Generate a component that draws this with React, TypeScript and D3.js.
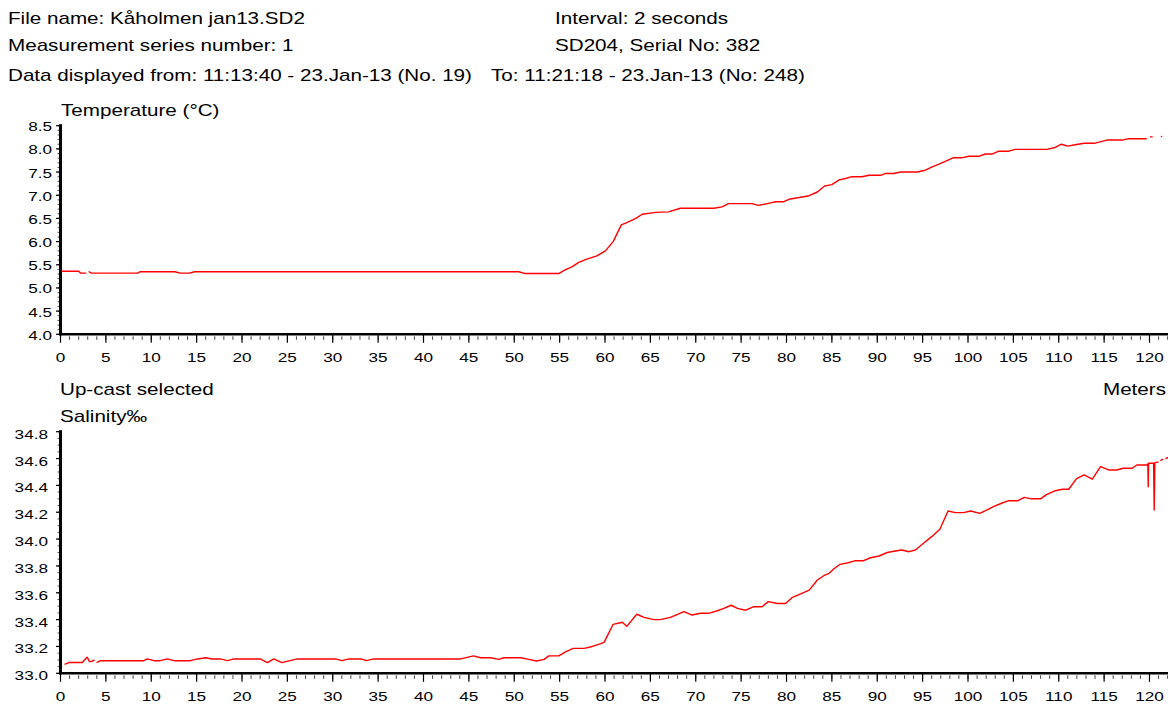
import React from "react";
import * as d3 from "d3";

// ---------- header texts ----------
const headerLeft = [
  "File name: Kåholmen jan13.SD2",
  "Measurement series number: 1",
  "Data displayed from: 11:13:40 - 23.Jan-13 (No. 19)",
];
const headerRight = [
  "Interval: 2 seconds",
  "SD204, Serial No: 382",
  "To: 11:21:18 - 23.Jan-13 (No: 248)",
];

// ---------- axis tick labels ----------
const depthTicks = [0, 5, 10, 15, 20, 25, 30, 35, 40, 45, 50, 55, 60, 65, 70, 75, 80, 85, 90, 95, 100, 105, 110, 115, 120];
const tempTicks = [4.0, 4.5, 5.0, 5.5, 6.0, 6.5, 7.0, 7.5, 8.0, 8.5];
const salTicks = [33.0, 33.2, 33.4, 33.6, 33.8, 34.0, 34.2, 34.4, 34.6, 34.8];

// ---------- temperature series (null = gap in record) ----------
const tempDepth = [
  0.1, 2.0, 2.2, 2.85, 2.95, 3.1, 3.4, 8.5, 8.8, 12.6, 13.2, 14.2, 14.8, 50.5, 51.2, 54.9, 55.5, 56.4, 57.1, 58.0,
  59.1, 60.05, 60.9, 61.8, 62.4, 63.4, 64.1, 65.6, 67.0, 68.3, 72.0, 72.9, 73.6, 76.2, 76.9, 77.9, 78.8, 79.7, 80.4, 81.4,
  82.5, 83.4, 84.2, 85.0, 85.8, 86.5, 87.2, 88.3, 89.1, 90.4, 90.9, 91.8, 92.6, 94.4, 95.3, 96.05, 96.8, 97.5, 98.4, 99.4,
  100.1, 101.2, 101.9, 102.7, 103.4, 104.5, 105.2, 108.7, 109.6, 110.3, 111.0, 111.8, 112.8, 113.9, 115.3, 117.0, 117.7, 119.7,
  119.85, 120.05, 120.35, 120.5, 120.8, 120.95, 121.25, 121.4, 121.6, 122.0,
];
const tempValue = [
  5.36, 5.36, 5.32, 5.32, null, 5.355, 5.32, 5.32, 5.35, 5.35, 5.32, 5.32, 5.35, 5.35, 5.31, 5.31, 5.38, 5.46, 5.55, 5.62,
  5.69, 5.80, 6.0, 6.36, 6.41, 6.50, 6.59, 6.63, 6.64, 6.72, 6.72, 6.75, 6.82, 6.82, 6.78, 6.82, 6.86, 6.86, 6.92, 6.95,
  6.99, 7.07, 7.20, 7.23, 7.33, 7.36, 7.40, 7.40, 7.43, 7.43, 7.47, 7.47, 7.50, 7.50, 7.54, 7.61, 7.67, 7.73, 7.81, 7.81,
  7.84, 7.84, 7.89, 7.89, 7.95, 7.95, 7.99, 7.99, 8.03, 8.10, 8.06, 8.09, 8.12, 8.12, 8.19, 8.19, 8.22, 8.22,
  null, 8.26, 8.26, null, 8.26, null, 8.265, 8.27, null, 8.31,
];

// ---------- salinity series ----------
const salDepth = [
  0.44, 0.92, 2.4, 2.75, 2.93, 3.2, 3.5, 3.75, 3.85, 3.97, 4.4, 9.2, 9.55, 10.3, 11.0, 11.75, 12.5, 14.3, 15.1, 16.0,
  16.7, 17.6, 18.4, 19.1, 22.0, 22.8, 23.5, 24.4, 25.3, 26.1, 30.3, 31.0, 31.8, 33.1, 33.7, 34.5, 44.1, 45.5, 46.3, 47.4,
  48.3, 48.85, 50.7, 51.6, 52.45, 53.3, 53.8, 54.9, 55.65, 56.5, 57.7, 58.6, 59.3, 59.9, 60.9, 61.9, 62.4, 63.5, 64.3, 65.4,
  66.1, 67.2, 67.8, 68.7, 69.6, 70.5, 71.4, 72.3, 73.1, 73.9, 74.6, 75.5, 76.4, 77.3, 78.0, 79.0, 79.9, 80.6, 81.5, 82.5,
  83.4, 84.1, 84.7, 85.2, 85.9, 86.8, 87.6, 88.5, 89.25, 90.2, 91.1, 92.0, 92.7, 93.5, 94.2, 95.1, 96.0, 96.9, 97.8, 98.6,
  99.5, 100.3, 101.3, 102.1, 102.8, 103.7, 104.5, 105.5, 106.2, 107.0, 108.0, 108.6, 109.5, 110.4, 111.1, 111.96, 112.8, 113.7, 114.6, 115.5,
  116.4, 117.1, 118.1, 118.6, 119.7, 119.82, 119.86, 119.9, 120.3, 120.45, 120.52, 120.59, 121.0, 121.1, 121.2, 121.5, 121.6, 121.75, 122.1,
];
const salValue = [
  33.067, 33.08, 33.08, 33.107, 33.12, 33.087, 33.09, 33.10, null, 33.08, 33.094, 33.094, 33.107, 33.094, 33.094, 33.107, 33.094, 33.094, 33.107, 33.116,
  33.107, 33.107, 33.094, 33.107, 33.107, 33.08, 33.107, 33.08, 33.094, 33.107, 33.107, 33.094, 33.107, 33.107, 33.094, 33.107, 33.107, 33.13, 33.116, 33.116,
  33.104, 33.116, 33.116, 33.104, 33.092, 33.104, 33.13, 33.13, 33.16, 33.186, 33.186, 33.20, 33.216, 33.23, 33.365, 33.38, 33.35, 33.44, 33.417, 33.40,
  33.40, 33.417, 33.434, 33.46, 33.434, 33.447, 33.447, 33.464, 33.484, 33.507, 33.484, 33.47, 33.496, 33.496, 33.534, 33.52, 33.52, 33.563, 33.59, 33.62,
  33.695, 33.727, 33.745, 33.777, 33.812, 33.824, 33.839, 33.839, 33.861, 33.874, 33.90, 33.911, 33.919, 33.906, 33.919, 33.969, 34.018, 34.073, 34.209, 34.197,
  34.197, 34.209, 34.192, 34.217, 34.241, 34.267, 34.286, 34.286, 34.311, 34.30, 34.30, 34.329, 34.358, 34.371, 34.371, 34.45, 34.478, 34.446, 34.54, 34.515,
  34.515, 34.528, 34.528, 34.552, 34.552, 34.56, 34.39, 34.565, 34.565, 34.565, 34.217, 34.57, 34.575, null, 34.585, 34.595, null, 34.60, 34.61,
];

// ---------- layout ----------
const W = 1168;
const H = 705;
const SX = 1.29;
const SX_AXIS = 1.32;
const FONT = "'Liberation Sans', Arial, Helvetica, sans-serif";
const RED = "#ff0000";

const x = d3.scaleLinear().domain([0, 120]).range([60.5, 1149.5]);
const xMax = x.invert(W);

function T({ x: tx, y: ty, anchor = "start", size = 16, sx = SX, children }: any) {
  return (
    <text
      transform={`translate(${tx},${ty}) scale(${sx},1)`}
      textAnchor={anchor}
      fontSize={size}
      fontFamily={FONT}
      fill="#000"
    >
      {children}
    </text>
  );
}

type PanelProps = {
  yScale: d3.ScaleLinear<number, number>;
  ticks: number[];
  minorStep: number;
  fmt: (v: number) => string;
  depth: number[];
  values: (number | null)[];
  labelRight: number;
  labelDy: number;
};

function Panel({ yScale, ticks, minorStep, fmt, depth, values, labelRight, labelDy }: PanelProps) {
  const [d0, d1] = yScale.domain();
  const yBottom = yScale(d0);
  const yTop = yScale(d1);
  const axisX = x(0);
  const minorY = d3.range(Math.round((d1 - d0) / minorStep) + 1).map((i) => d0 + i * minorStep);
  const minorX = d3.range(0, Math.floor(xMax) + 1);
  const pts = depth.map((d, i) => [d, values[i]] as [number, number | null]);
  const line = d3
    .line<[number, number | null]>()
    .defined((p) => p[1] !== null)
    .x((p) => x(p[0]))
    .y((p) => yScale(p[1] as number));
  return (
    <g>
      {minorY.map((v, i) => (
        <line key={"my" + i} x1={axisX - 3} x2={axisX} y1={yScale(v)} y2={yScale(v)} stroke="#555" strokeWidth={1} />
      ))}
      {ticks.map((v, i) => (
        <line key={"Y" + i} x1={axisX - 4.5} x2={axisX} y1={yScale(v)} y2={yScale(v)} stroke="#000" strokeWidth={1.2} />
      ))}
      {ticks.map((v, i) => (
        <T key={"yl" + i} x={labelRight} y={yScale(v) + labelDy} anchor="end" size={13} sx={SX_AXIS}>
          {fmt(v)}
        </T>
      ))}
      {minorX.map((v) => (
        <line key={"mx" + v} x1={x(v)} x2={x(v)} y1={yBottom + 2} y2={yBottom + 5.5} stroke="#444" strokeWidth={1} />
      ))}
      {depthTicks.map((v) => (
        <line key={"X" + v} x1={x(v)} x2={x(v)} y1={yBottom} y2={yBottom + 8.5} stroke="#000" strokeWidth={1.2} />
      ))}
      {depthTicks.map((v) => (
        <T key={"xl" + v} x={x(v)} y={yBottom + 27.5} anchor="middle" size={13} sx={SX_AXIS}>
          {String(v)}
        </T>
      ))}
      <line x1={axisX} x2={axisX} y1={yTop - 1.5} y2={yBottom + 1} stroke="#000" strokeWidth={3} />
      <line x1={axisX - 1.5} x2={W} y1={yBottom} y2={yBottom} stroke="#000" strokeWidth={2.6} />
      <path d={line(pts) || ""} fill="none" stroke={RED} strokeWidth={1.4} strokeLinejoin="round" />
    </g>
  );
}

export default function App() {
  const yTemp = d3.scaleLinear().domain([4.0, 8.5]).range([334.3, 125.7]);
  const ySal = d3.scaleLinear().domain([33.0, 34.8]).range([673.3, 431.7]);
  const headerY = [24, 51, 81];
  return (
    <svg
      width={W}
      height={H}
      viewBox={`0 0 ${W} ${H}`}
      style={{ position: "absolute", left: 0, top: 0, display: "block", background: "#fff" }}
    >
      <rect x={0} y={0} width={W} height={H} fill="#fff" />
      {headerLeft.map((s, i) => (
        <T key={"hl" + i} x={8} y={headerY[i]}>
          {s}
        </T>
      ))}
      <T x={555} y={headerY[0]}>{headerRight[0]}</T>
      <T x={555} y={headerY[1]}>{headerRight[1]}</T>
      <T x={491} y={headerY[2]}>{headerRight[2]}</T>

      <T x={61} y={116}>Temperature (°C)</T>
      <Panel yScale={yTemp} ticks={tempTicks} minorStep={0.1} fmt={(v) => v.toFixed(1)} depth={tempDepth} values={tempValue} labelRight={52} labelDy={5.5} />

      <T x={60} y={395}>Up-cast selected</T>
      <T x={1166} y={395} anchor="end">Meters</T>
      <T x={60} y={421.5}>Salinity‰</T>
      <Panel yScale={ySal} ticks={salTicks} minorStep={0.05} fmt={(v) => v.toFixed(1)} depth={salDepth} values={salValue} labelRight={48} labelDy={7} />
    </svg>
  );
}
